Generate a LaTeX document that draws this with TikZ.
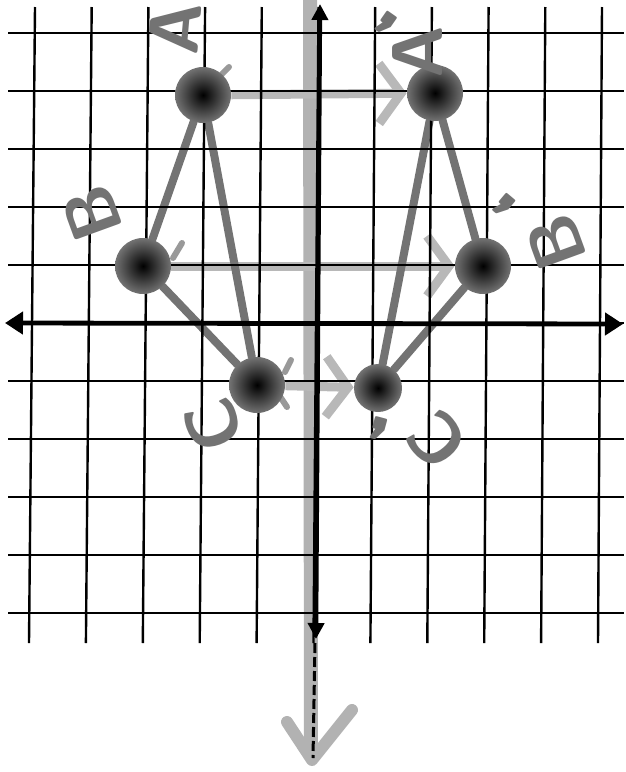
\documentclass[tikz,border=0pt]{standalone}
\usetikzlibrary{arrows.meta}
\pgfdeclarelayer{bg}
\pgfsetlayers{bg,main}
\newcommand{\tightprime}{\raisebox{-0.5em}[0.2em][0.05em]{’}}
\begin{document}
\begin{tikzpicture}[x=0.5pt,y=-0.5pt,
  gridline/.style={line width=1.2pt, black},
  axisline/.style={line width=2.2pt, black},
  dot/.style={circle, minimum size=28pt, inner sep=0pt, shading=radial, inner color=black, outer color=black!55},
  edgeline/.style={line width=4pt, black!55, line cap=round},
  mapline/.style={line width=4.5pt, black!28, -{Straight Barb[length=11pt,width=30pt]}},
  tick/.style={line width=3pt, black!40, line cap=round},
  marker/.style={line width=7pt, black!30},
  hand/.style={text=black!55, font=\sffamily\bfseries\fontsize{36}{36}\selectfont, inner sep=0pt},
  primemark/.style={text=black!55, font=\sffamily\bfseries\fontsize{48}{48}\selectfont, inner sep=0pt},
  ]
\useasboundingbox (0,0) rectangle (626,772);
% points
\node[dot] (A) at (203,95) {};
\node[dot] (B) at (143,266) {};
\node[dot] (C) at (257,385) {};
\node[dot] (Ap) at (435,93) {};
\node[dot] (Bp) at (483,266) {};
\node[dot, minimum size=24pt] (Cp) at (378,388) {};
\begin{pgfonlayer}{bg}
  % highlighter along the y-axis, ending in a hand-drawn arrow
  \draw[marker] (310,0) -- (311,752);
  \draw[marker, line width=6pt, line cap=round, line join=round] (287,722) -- (312,760) -- (352,710);
  % reflection lines
  \draw[mapline] (A) -- (Ap);
  \draw[mapline] (B) -- (Bp);
  \draw[mapline] (C) -- (Cp);
  \draw[tick] (222,74) -- (229,67);
  \draw[tick] (173,258) -- (182,243);
  \draw[tick] (285,372) -- (291,360);
  \draw[tick] (281,398) -- (287,407);
  % triangles
  \draw[edgeline] (A) -- (B);
  \draw[edgeline] (B) -- (C);
  \draw[edgeline] (C) -- (A);
  \draw[edgeline] (Ap) -- (Bp);
  \draw[edgeline] (Bp) -- (Cp);
  \draw[edgeline] (Cp) -- (Ap);
  % grid
  \foreach \k in {0,...,10} \draw[gridline] ({35+56.7*\k},7) -- ({29+56.9*\k},643);
  \foreach \k in {0,...,10} \draw[gridline] (8,{33+58*\k}) -- (624,{33+58*\k});
\end{pgfonlayer}
% axes
\draw[line width=2.4pt, {Triangle[length=9pt,width=11pt]}-{Triangle[length=9pt,width=11pt]}] (5,323) -- (623,324);
\draw[axisline, {Triangle[length=8pt,width=8pt]}-{Triangle[length=8pt,width=8pt]}] (320,4) -- (316,639);
\draw[line width=1.5pt, dash pattern=on 5pt off 2pt] (315,643) -- (313,758);
% labels
\node[hand, rotate=85] (lA) at (175,28) {A};
\node[hand, rotate=90] (lAp) at (418,52) {A};
\node[primemark, rotate=-35] (pAp) at (386,24) {\tightprime};
\node[hand, rotate=110] (lBp) at (556,242) {B};
\node[hand, rotate=110] (lB) at (92,213) {B};
\node[primemark, rotate=-40] (pBp) at (504,206) {\tightprime};
\node[hand, rotate=110] (lC) at (213,425) {C};
\node[hand, rotate=130] (lCp) at (437,440) {C};
\node[primemark, rotate=-15] (pCp) at (379,429) {\tightprime};
\end{tikzpicture}
\end{document}
